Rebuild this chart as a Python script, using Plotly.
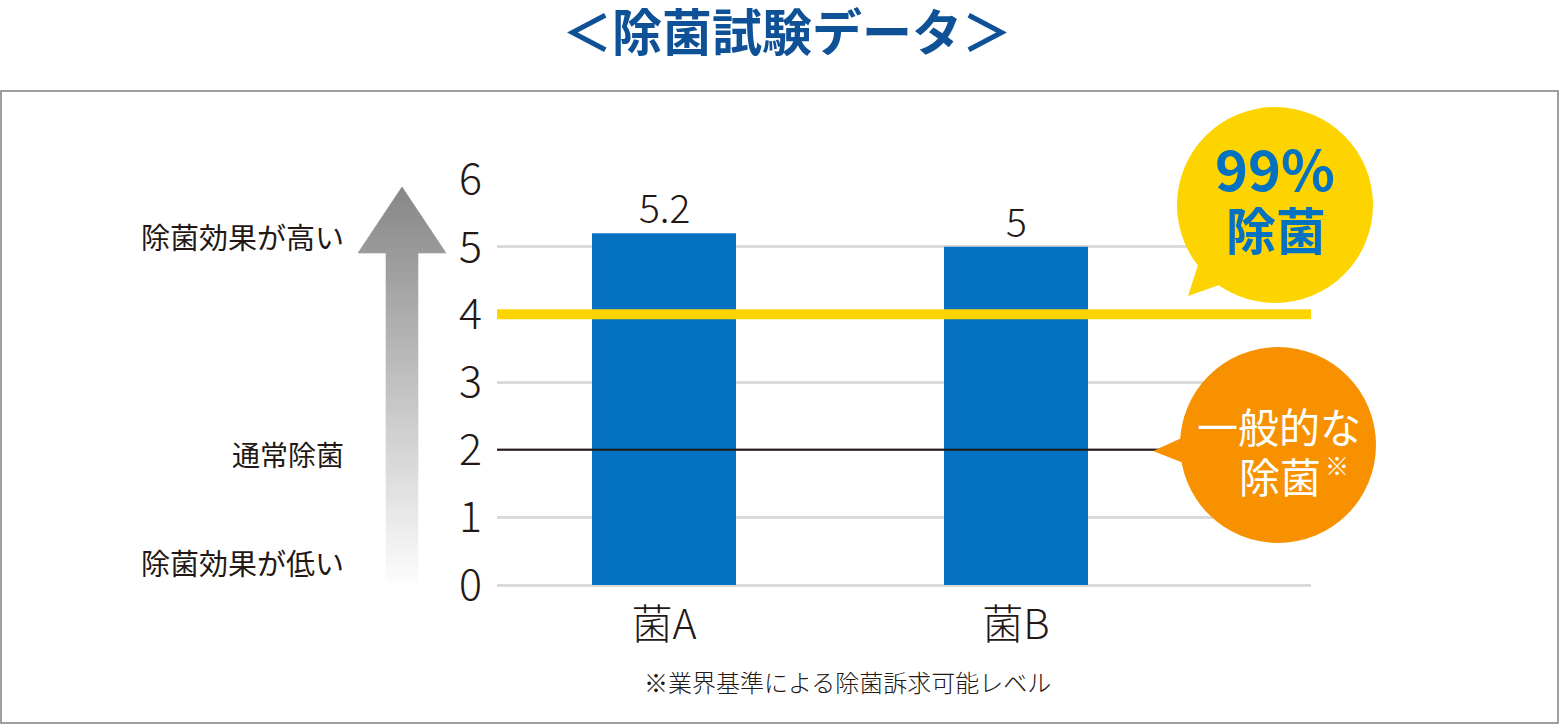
import plotly.graph_objects as go

# ---- data ----
categories = ["菌A", "菌B"]
values = [5.2, 5]
value_labels = ["5.2", "5"]
y_ticks = [0, 1, 2, 3, 4, 5, 6]
threshold_99 = 4      # 99% 除菌 level
threshold_general = 2 # 一般的な除菌 level
title_text = "＜除菌試験データ＞"
footnote = "※業界基準による除菌訴求可能レベル"
left_labels = ["除菌効果が高い", "通常除菌", "除菌効果が低い"]

W, H = 1560, 725
FONT = "Noto Sans CJK JP"
LIGHT = "Noto Sans CJK JP Light, Noto Sans CJK JP"
TXT = "#231815"
BAR = "#0571c1"
YEL = "#fdd400"
ORG = "#f79100"


def px(x):
    return x / W


def py(y):
    return 1 - y / H


fig = go.Figure()
fig.add_trace(go.Bar(
    x=[0, 1], y=values, width=0.409, marker=dict(color=BAR, line=dict(width=0)),
    hoverinfo="skip", showlegend=False,
))

x0, x1 = 497, 1311
y0, y1 = 585, 179
fig.update_layout(
    width=W, height=H, margin=dict(l=0, r=0, t=0, b=0, autoexpand=False),
    paper_bgcolor="white", plot_bgcolor="white", showlegend=False,
    xaxis=dict(
        domain=[px(x0), px(x1)], range=[-(664 - x0) / 352, 1 + (x1 - 1016) / 352],
        tickmode="array", tickvals=[0, 1], ticktext=categories,
        tickfont=dict(family=LIGHT, size=41, color=TXT, weight=300),
        showgrid=False, zeroline=False, showline=False, ticks="", ticklabelstandoff=12,
        fixedrange=True,
    ),
    yaxis=dict(
        domain=[py(y0), py(y1)], range=[0, 6],
        tickmode="array", tickvals=y_ticks,
        tickfont=dict(family=LIGHT, size=43, color=TXT, weight=300),
        showgrid=True, gridcolor="#dadada", gridwidth=3,
        zeroline=True, zerolinecolor="#dadada", zerolinewidth=3,
        showline=False, ticks="", ticklabelstandoff=14, fixedrange=True,
    ),
)

shapes = []
# outer box
shapes.append(dict(type="rect", xref="paper", yref="paper", x0=px(1), y0=py(91), x1=px(1558), y1=py(723),
                   line=dict(color="#808080", width=1.5), fillcolor="rgba(0,0,0,0)", layer="below"))

# gradient arrow built from thin horizontal strips
top, base, bottom = 187, 253, 581
cx, head_half, shaft_half = 402, 44, 16
step = 3


def gray_at(y):
    t = (y - top) / (bottom - top)
    v = int(round(135 + (252 - 135) * t))
    return f"rgb({v},{v},{v})"


y = top
while y < bottom:
    ya, yb = y, min(y + step, bottom)
    col = gray_at((ya + yb) / 2)
    if yb <= base:
        ha = head_half * (ya - top) / (base - top)
        hb = head_half * (yb - top) / (base - top)
        path = (f"M {px(cx - ha)} {py(ya)} L {px(cx + ha)} {py(ya)} "
                f"L {px(cx + hb)} {py(yb)} L {px(cx - hb)} {py(yb)} Z")
        shapes.append(dict(type="path", xref="paper", yref="paper", path=path,
                           fillcolor=col, line=dict(width=0.6, color=col), layer="below"))
    else:
        shapes.append(dict(type="rect", xref="paper", yref="paper",
                           x0=px(cx - shaft_half), x1=px(cx + shaft_half), y0=py(ya), y1=py(yb),
                           fillcolor=col, line=dict(width=0.6, color=col), layer="below"))
    y = yb

# threshold lines
shapes.append(dict(type="line", xref="paper", yref="y", x0=px(x0), x1=px(x1),
                   y0=threshold_99, y1=threshold_99, line=dict(color=YEL, width=10), layer="above"))
shapes.append(dict(type="line", xref="paper", yref="y", x0=px(x0), x1=px(1160),
                   y0=threshold_general, y1=threshold_general, line=dict(color="#231815", width=2), layer="above"))
# yellow bubble
shapes.append(dict(type="circle", xref="paper", yref="paper", x0=px(1177), y0=py(303), x1=px(1373), y1=py(107),
                   fillcolor=YEL, line=dict(width=0), layer="above"))
shapes.append(dict(type="path", xref="paper", yref="paper",
                   path=f"M {px(1199)} {py(262)} L {px(1188)} {py(296)} L {px(1222)} {py(284)} Z",
                   fillcolor=YEL, line=dict(width=0), layer="above"))
# orange bubble
shapes.append(dict(type="circle", xref="paper", yref="paper", x0=px(1180), y0=py(543), x1=px(1376), y1=py(347),
                   fillcolor=ORG, line=dict(width=0), layer="above"))
shapes.append(dict(type="path", xref="paper", yref="paper",
                   path=f"M {px(1186)} {py(436)} L {px(1153)} {py(451)} L {px(1186)} {py(464)} Z",
                   fillcolor=ORG, line=dict(width=0), layer="above"))
fig.update_layout(shapes=shapes)


def note(x, y, text, size, color=TXT, xanchor="center", family=FONT, weight=None):
    f = dict(family=family, size=size, color=color)
    if weight:
        f["weight"] = weight
    return dict(xref="paper", yref="paper", x=px(x), y=py(y), text=text, showarrow=False,
                xanchor=xanchor, yanchor="middle", font=f)


ann = []
ann.append(note(787, 29, f"<b>{title_text}</b>", 50, "#0f5197"))
for i, (v, t) in enumerate(zip(values, value_labels)):
    ann.append(dict(xref="x", yref="y", x=i, y=v, text=t, showarrow=False, yanchor="bottom", yshift=-3,
                    font=dict(family=LIGHT, size=39, color=TXT, weight=300)))
ann.append(note(346, 236, left_labels[0], 29, xanchor="right"))
ann.append(note(346, 454, left_labels[1], 28, xanchor="right"))
ann.append(note(346, 562, left_labels[2], 29, xanchor="right"))
ann.append(note(848, 681, footnote, 24, family=LIGHT, weight=300))
ann.append(note(1275, 166, "<b>99%</b>", 56, BAR))
ann.append(note(1276, 228, "<b>除菌</b>", 50, BAR))
ann.append(note(1279, 425, "一般的な", 41, "white"))
ann.append(note(1280, 475, "除菌", 41, "white"))
ann.append(note(1337, 465, "※", 24, "white"))
fig.update_layout(annotations=ann)

fig.write_html(
    "out.html",
    config={"displayModeBar": False},
    post_script="document.body.style.margin='0';document.body.style.overflow='hidden';",
)
